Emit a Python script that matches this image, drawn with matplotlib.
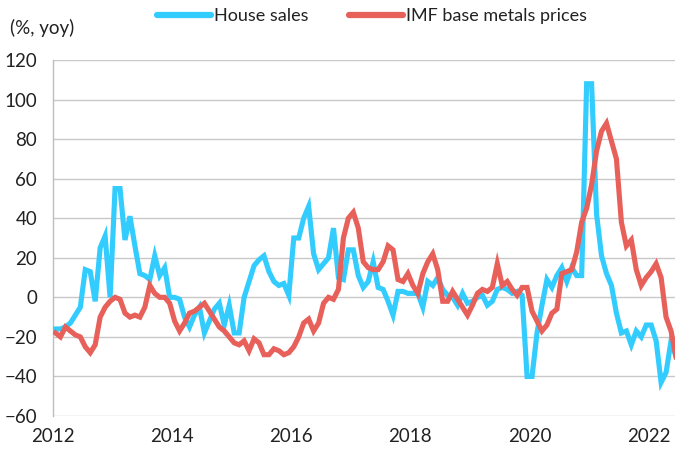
import matplotlib
matplotlib.use("Agg")
import matplotlib.pyplot as plt
import numpy as np

# Monthly data, Jan 2012 onwards (% yoy)
house_sales = [
    -16, -16, -15, -13, -9, -5, 14, 13, -2, 25,
    31, 0, 55, 55, 29, 41, 26, 12, 11, 9,
    21, 11, 15, 0, 0, -1, -10, -15, -9, -5,
    -18, -12, -6, -3, -14, -4, -18, -18, 0, 8,
    16, 19, 21, 13, 8, 6, 7, 1, 30, 30,
    40, 46, 22, 14, 17, 20, 35, 10, 9, 24,
    24, 11, 5, 8, 18, 5, 4, -2, -9, 3,
    3, 2, 2, 2, -5, 8, 6, 10, 4, 1,
    0, -4, 2, -3, -2, 0, 1, -4, -2, 4,
    5, 4, 2, 3, 1, -40, -40, -18, -4, 9,
    5, 11, 15, 8, 15, 11, 11, 108, 108, 42,
    21, 12, 6, -8, -18, -17, -24, -17, -20, -14,
    -14, -22, -43, -38, -22, -30,
]
metals_prices = [
    -18, -20, -15, -17, -19, -20, -25, -28, -24, -10,
    -5, -2, 0, -1, -8, -10, -9, -10, -5, 6,
    2, 0, 0, -3, -12, -17, -13, -8, -7, -5,
    -3, -7, -11, -15, -17, -20, -23, -24, -22, -27,
    -21, -23, -29, -29, -26, -27, -29, -28, -25, -20,
    -13, -11, -17, -13, -3, 0, -1, 4, 30, 40,
    43, 35, 18, 15, 14, 14, 18, 26, 24, 9,
    8, 12, 6, 2, 12, 18, 22, 14, -2, -2,
    3, -1, -5, -9, -4, 2, 4, 3, 5, 17,
    6, 8, 4, 1, 5, 5, -7, -12, -17, -14,
    -8, -6, 12, 13, 14, 23, 38, 45, 57, 74,
    84, 88, 79, 70, 38, 26, 29, 14, 6, 10,
    13, 17, 10, -10, -17, -30,
]
year_ticks = [2012, 2014, 2016, 2018, 2020, 2022]
y_ticks = [-60, -40, -20, 0, 20, 40, 60, 80, 100, 120]

plt.rcParams['font.family'] = ['Lato', 'DejaVu Sans']

fig = plt.figure(figsize=(6.75, 4.5), dpi=100)
ax = fig.add_axes([53/675, 1 - 416/450, 1 - 53/675, (416 - 60)/450])

n = len(house_sales)
x = 2012 + (np.arange(n) + 0.5) / 12.0

blue = '#33CCFF'
red = '#E8605A'
ax.plot(x, house_sales, color=blue, lw=3.7, solid_joinstyle='miter', label='House sales', zorder=3)
ax.plot(x, metals_prices, color=red, lw=3.7, solid_joinstyle='miter', label='IMF base metals prices', zorder=4)

ax.set_xlim(2012, 2012 + 125.3 / 12)
ax.set_ylim(-60, 120)
ax.set_yticks(y_ticks)
ax.set_xticks(year_ticks)
ax.set_xticklabels([str(y) for y in year_ticks])
ax.grid(axis='y', color='#C8C8C8', lw=1.0)
ax.set_axisbelow(True)
for s in ['top', 'right', 'bottom']:
    ax.spines[s].set_visible(False)
ax.spines['left'].set_color('#BDBDBD')
ax.spines['left'].set_linewidth(1.0)
ax.tick_params(axis='both', length=0, labelsize=13.5, colors='#222222')
ax.tick_params(axis='y', pad=11.5)
ax.tick_params(axis='x', pad=9)

fig.text(10/675, 1 - 28/450, '(%, yoy)', fontsize=13.5, color='#222222', va='center', ha='left')

leg = fig.legend(loc='center', bbox_to_anchor=(372/675, 1 - 16/450), ncol=2, frameon=False,
                 fontsize=13, handlelength=3.0, handletextpad=0.17, columnspacing=2.2,
                 borderpad=0.2)
for line in leg.get_lines():
    line.set_linewidth(4.5)
    line.set_solid_capstyle('round')
for t in leg.get_texts():
    t.set_color('#222222')

fig.savefig('out.png', dpi=100)
